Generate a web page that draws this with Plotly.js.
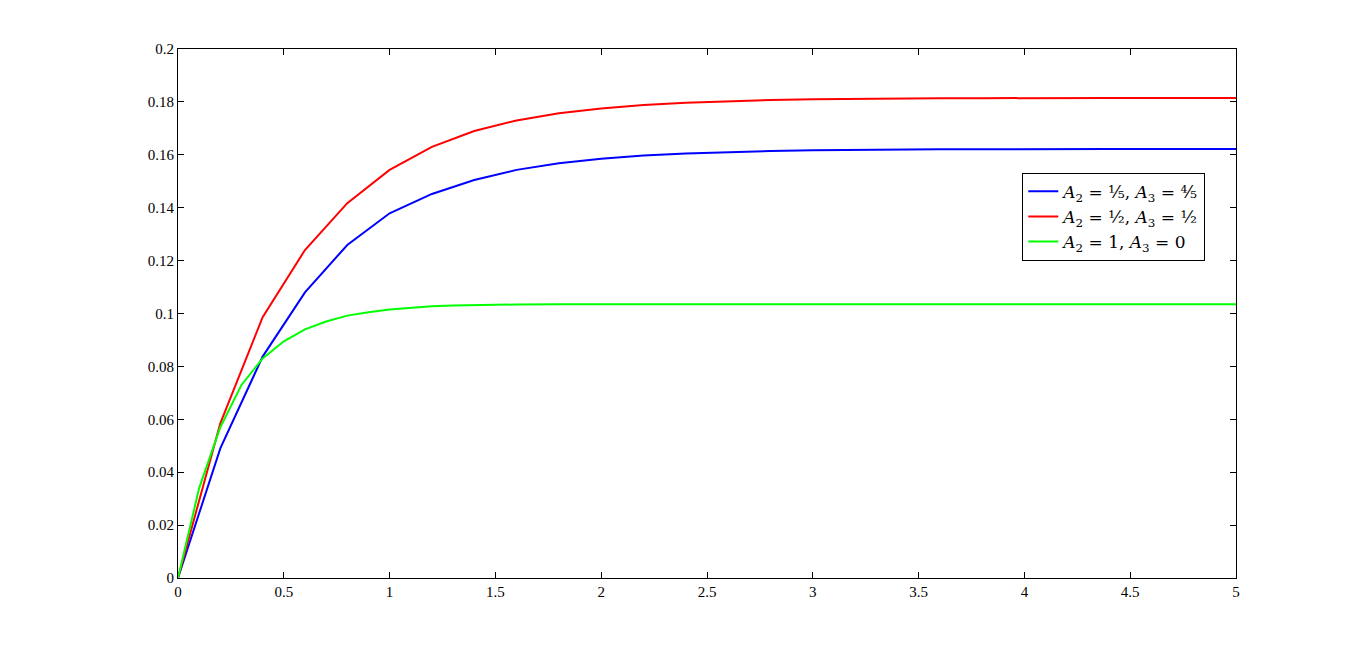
<!DOCTYPE html>
<html>
<head>
<meta charset="utf-8">
<script src="https://cdn.plot.ly/plotly-3.0.1.min.js"></script>
<style>html,body{margin:0;padding:0;background:#fff;}#chart{width:1366px;height:651px;}</style>
</head>
<body>
<div id="chart"></div>
<script>
const tCoarse = [0,0.2,0.4,0.6,0.8,1.0,1.2,1.4,1.6,1.8,2.0,2.2,2.4,2.6,2.8,3.0,3.2,3.4,3.6,3.8,4.0,4.2,4.4,4.6,4.8,5.0];
const blueVals = [0,0.049,0.0837,0.108,0.1259,0.1379,0.1452,0.1505,0.1543,0.1568,0.1585,0.1597,0.1605,0.1610,0.1614,0.1617,0.1619,0.1620,0.1621,0.1621,0.1622,0.1622,0.1622,0.1622,0.1622,0.1622];
const redVals = [0,0.0585,0.0986,0.124,0.1417,0.1543,0.1630,0.1690,0.1730,0.1757,0.1775,0.1788,0.1797,0.1803,0.1807,0.1810,0.1812,0.1813,0.1814,0.1814,0.1815,0.1815,0.1815,0.1815,0.1815,0.1815];
const tFine = [0,0.1,0.2,0.3,0.4,0.5,0.6,0.7,0.8,0.9,1.0,1.1,1.2,1.3,1.4,1.5,1.6,1.8,2.0,2.5,3.0,3.5,4.0,4.5,5.0];
const greenVals = [0,0.034,0.057,0.073,0.083,0.0895,0.094,0.097,0.0992,0.1005,0.1015,0.1022,0.1027,0.1030,0.1032,0.1033,0.1034,0.1035,0.1035,0.1035,0.1035,0.1035,0.1035,0.1035,0.1035];
const seriesNames = [
  "<i>A</i><sub>2</sub> = ⅕, <i>A</i><sub>3</sub> = ⅘",
  "<i>A</i><sub>2</sub> = ½, <i>A</i><sub>3</sub> = ½",
  "<i>A</i><sub>2</sub> = 1, <i>A</i><sub>3</sub> = 0"
];
const xTicks = [0,0.5,1,1.5,2,2.5,3,3.5,4,4.5,5];
const xTickText = ["0","0.5","1","1.5","2","2.5","3","3.5","4","4.5","5"];
const yTicks = [0,0.02,0.04,0.06,0.08,0.1,0.12,0.14,0.16,0.18,0.2];
const yTickText = ["0","0.02","0.04","0.06","0.08","0.1","0.12","0.14","0.16","0.18","0.2"];

const traces = [
  {x: tCoarse, y: blueVals, name: seriesNames[0], mode: "lines", line: {color: "#0000ff", width: 2}},
  {x: tCoarse, y: redVals, name: seriesNames[1], mode: "lines", line: {color: "#ff0000", width: 2}},
  {x: tFine, y: greenVals, name: seriesNames[2], mode: "lines", line: {color: "#00ff00", width: 2}}
];
const axisCommon = {
  showgrid: false, zeroline: false, showline: true, linecolor: "#000", linewidth: 1,
  mirror: "allticks", ticks: "inside", ticklen: 6, tickwidth: 1, tickcolor: "#000",
  tickfont: {family: "'Liberation Serif', serif", size: 15, color: "#000"}
};
const layout = {
  width: 1366, height: 651,
  margin: {l: 178, r: 130, t: 49, b: 73},
  paper_bgcolor: "#fff", plot_bgcolor: "#fff",
  showlegend: true,
  xaxis: Object.assign({}, axisCommon, {range: [0,5], tickmode: "array", tickvals: xTicks, ticktext: xTickText}),
  yaxis: Object.assign({}, axisCommon, {range: [0,0.2], tickmode: "array", tickvals: yTicks, ticktext: yTickText}),
  legend: {x: 0.798, y: 0.766, xanchor: "left", yanchor: "top", bgcolor: "#fff", bordercolor: "#000", borderwidth: 1,
    font: {family: "'DejaVu Serif', serif", size: 17, color: "#000"}, traceorder: "normal", tracegroupgap: 0, itemwidth: 30}
};
Plotly.newPlot("chart", traces, layout, {displayModeBar: false, staticPlot: true});
</script>
</body>
</html>
